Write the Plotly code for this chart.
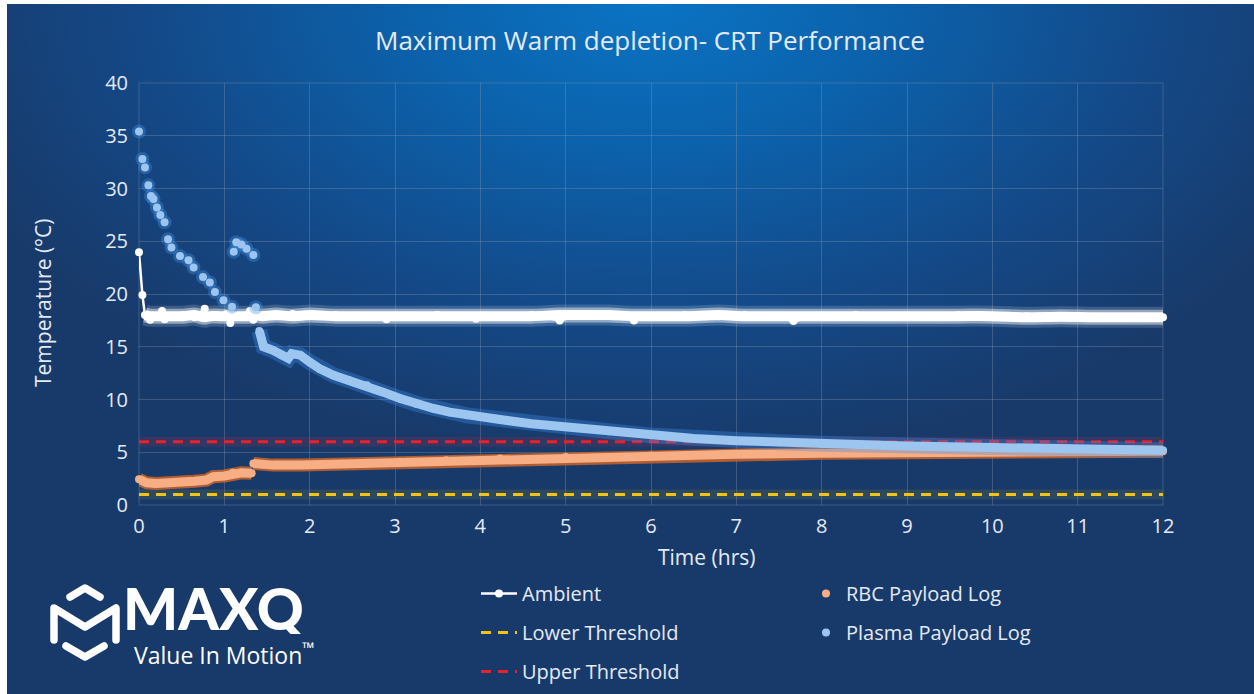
import base64
import plotly.graph_objects as go

# ---------------- data ----------------
amb_t = [0.0, 0.04, 0.07, 0.13, 0.2, 0.27, 0.3, 0.4, 0.52, 0.65, 0.77, 0.83, 0.95, 1.03, 1.07,
         1.15, 1.3, 1.34, 1.45, 1.6, 1.8, 2.0, 2.3, 2.6, 2.9, 3.2, 3.5, 3.95, 4.3, 4.6, 4.93,
         5.2, 5.5, 5.8, 6.1, 6.4, 6.8, 7.1, 7.4, 7.67, 8.0, 8.4, 8.8, 9.2, 9.6, 10.0, 10.4,
         10.8, 11.2, 11.6, 12.0]
amb_v = [23.95, 19.9, 18.0, 17.55, 17.9, 18.4, 17.6, 17.9, 18.0, 17.8, 18.6, 17.8, 17.9, 18.1, 17.25,
         17.9, 18.4, 17.55, 18.0, 17.9, 18.1, 17.9, 18.0, 17.9, 17.6, 17.9, 18.0, 17.65, 17.9, 18.0, 17.5,
         18.0, 18.1, 17.5, 17.9, 18.0, 17.9, 18.0, 17.9, 17.45, 17.9, 18.0, 17.9, 17.9, 18.0, 17.8, 17.9,
         17.8, 17.85, 17.8, 17.8]

rbc_t = [0.0, 0.09, 0.2, 0.32, 0.52, 0.65, 0.79, 0.87, 1.0, 1.07, 1.1, 1.2, 1.32, 1.34, 1.45, 1.57,
         1.9, 2.28, 2.7, 3.06, 3.6, 4.23, 5.0, 6.0, 7.0, 8.0, 9.0, 10.0, 11.0, 12.0]
rbc_v = [2.43, 2.1, 2.05, 2.05, 2.2, 2.25, 2.36, 2.68, 2.75, 2.84, 3.06, 3.05, 3.0, 3.94, 3.85, 3.78,
         3.8, 3.88, 4.0, 4.1, 4.25, 4.4, 4.55, 4.7, 4.8, 4.9, 4.95, 5.0, 5.05, 5.1]

pla_t = [0.0, 0.04, 0.07, 0.11, 0.14, 0.17, 0.21, 0.25, 0.3, 0.34, 0.38, 0.48, 0.58, 0.64, 0.75,
         0.83, 0.89, 0.99, 1.09, 1.11, 1.14, 1.2, 1.26, 1.34, 1.37, 1.41, 1.44, 1.46, 1.57, 1.67,
         1.75, 1.79, 1.89, 2.0, 2.12, 2.28, 2.47, 2.67, 2.86, 3.06, 3.25, 3.45, 3.64, 3.84, 4.0,
         4.23, 4.6, 5.0, 5.5, 6.0, 6.5, 7.0, 7.5, 8.0, 9.0, 10.0, 11.0, 12.0]
pla_v = [35.4, 32.8, 32.0, 30.3, 29.3, 29.0, 28.2, 27.5, 26.8, 25.2, 24.4, 23.6, 23.2, 22.5, 21.6,
         21.1, 20.2, 19.4, 18.8, 24.0, 24.9, 24.7, 24.3, 23.7, 18.75, 16.5, 15.7, 15.0, 14.66, 14.2,
         13.9, 14.35, 14.2, 13.55, 12.9, 12.3, 11.8, 11.35, 10.7, 10.1, 9.6, 9.15, 8.8, 8.5, 8.35,
         8.1, 7.7, 7.4, 7.0, 6.6, 6.3, 6.1, 5.95, 5.8, 5.6, 5.45, 5.3, 5.2]

lower_threshold = 1.0
upper_threshold = 6.0
x_range = [0, 12]
y_range = [0, 40]
x_ticks = list(range(0, 13))
y_ticks = list(range(0, 41, 5))

title_text = "Maximum Warm depletion- CRT Performance"
x_title = "Time (hrs)"
y_title = "Temperature (°C)"

# ---------------- layout geometry ----------------
W, H = 1254, 694
L, R, T, B = 139, 1163, 83, 505
FONT = "Open Sans"
TXT = "#e4eaf4"


def px(x):
    return (x - L) / (R - L)


def py(y):
    return (B - y) / (B - T)


def with_gaps(ts, vs, jump=0.5, dt=0.06):
    """insert None where the series jumps vertically (logger discontinuity)"""
    xo, yo = [ts[0]], [vs[0]]
    for i in range(1, len(ts)):
        if abs(vs[i] - vs[i - 1]) > jump and (ts[i] - ts[i - 1]) < dt:
            xo.append(None)
            yo.append(None)
        xo.append(ts[i])
        yo.append(vs[i])
    return xo, yo


def median3(vs):
    """light smoothing used only for the decorative glow under the ambient trace"""
    out = list(vs)
    for i in range(1, len(vs) - 1):
        out[i] = sorted(vs[i - 1:i + 2])[1]
    return out


fig = go.Figure()

# thresholds (glow + line)
for val, col, glow, name in [(lower_threshold, "#f2c214", "rgba(240,200,20,0.10)", "Lower Threshold"),
                             (upper_threshold, "#e8212b", "rgba(232,33,43,0.14)", "Upper Threshold")]:
    fig.add_trace(go.Scatter(x=x_range, y=[val, val], mode="lines",
                             line=dict(color=glow, width=10), showlegend=False, hoverinfo="skip"))
    fig.add_trace(go.Scatter(x=x_range, y=[val, val], mode="lines", name=name,
                             line=dict(color=col, width=3, dash="10px,7px"),
                             legend="legend", legendgroup=name,
                             legendrank=2 if name.startswith("Lower") else 3))

# ambient glow
amb_gx = [t for t in amb_t if t >= 0.07]
amb_gy = median3([v for t, v in zip(amb_t, amb_v) if t >= 0.07])
for w, c in [(21, "rgba(255,255,255,0.16)"), (15, "rgba(255,255,255,0.45)"), (10, "#ffffff")]:
    fig.add_trace(go.Scatter(x=amb_gx, y=amb_gy, mode="lines", line=dict(color=c, width=w, shape="spline"),
                             showlegend=False, hoverinfo="skip", cliponaxis=False))
fig.add_trace(go.Scatter(x=amb_t, y=amb_v, mode="lines+markers", name="Ambient",
                         line=dict(color="#ffffff", width=2.5),
                         marker=dict(color="#ffffff", size=8),
                         legend="legend", legendgroup="Ambient", legendrank=1, cliponaxis=False))

# RBC band
rx, ry = with_gaps(rbc_t, rbc_v)
fig.add_trace(go.Scatter(x=rx, y=ry, mode="lines", line=dict(color="rgba(205,100,40,0.85)", width=13),
                         showlegend=False, hoverinfo="skip", cliponaxis=False))
fig.add_trace(go.Scatter(x=rx, y=ry, mode="lines", line=dict(color="#f7ae85", width=9),
                         showlegend=False, hoverinfo="skip", cliponaxis=False))
fig.add_trace(go.Scatter(x=rbc_t, y=rbc_v, mode="markers", name="RBC Payload Log",
                         marker=dict(color="#f7ae85", size=8),
                         legend="legend2", legendgroup="RBC", legendrank=1, cliponaxis=False))

# Plasma: discrete dots early, continuous band later
band_x = [t for t in pla_t if t >= 1.41]
band_y = [v for t, v in zip(pla_t, pla_v) if t >= 1.41]
dot_x = [t for t in pla_t if t < 1.41]
dot_y = [v for t, v in zip(pla_t, pla_v) if t < 1.41]
fig.add_trace(go.Scatter(x=band_x, y=band_y, mode="lines", line=dict(color="rgba(60,140,235,0.35)", width=16),
                         showlegend=False, hoverinfo="skip", cliponaxis=False))
fig.add_trace(go.Scatter(x=band_x, y=band_y, mode="lines", line=dict(color="#9cc6f0", width=9),
                         showlegend=False, hoverinfo="skip", cliponaxis=False))
fig.add_trace(go.Scatter(x=dot_x, y=dot_y, mode="markers", marker=dict(color="rgba(70,150,235,0.35)", size=14),
                         showlegend=False, hoverinfo="skip", cliponaxis=False))
fig.add_trace(go.Scatter(x=pla_t, y=pla_v, mode="markers", name="Plasma Payload Log",
                         marker=dict(color="#9cc6f0", size=8),
                         legend="legend2", legendgroup="Plasma", legendrank=2, cliponaxis=False))

# ---------------- background (gradient + logo mark) ----------------
svg = f'''<svg xmlns="http://www.w3.org/2000/svg" width="{W}" height="{H}" viewBox="0 0 {W} {H}">
<defs>
<radialGradient id="g" gradientUnits="userSpaceOnUse" cx="650" cy="0" r="740"
 gradientTransform="translate(650 0) scale(1 0.62) translate(-650 0)">
<stop offset="0" stop-color="#0a74c4"/>
<stop offset="0.35" stop-color="#0c60a9"/>
<stop offset="0.7" stop-color="#144886"/>
<stop offset="1" stop-color="#183a6a"/>
</radialGradient>
</defs>
<rect x="7" y="4" width="{W - 7}" height="{H - 4}" fill="#183a6a"/>
<rect x="7" y="4" width="{W - 7}" height="{H - 4}" fill="url(#g)"/>
<rect x="{L}" y="{T}" width="{R - L}" height="{B - T}" fill="none" stroke="rgba(140,150,170,0.35)" stroke-width="1"/>
<g fill="none" stroke="#ffffff" stroke-width="7.5" stroke-linecap="round" stroke-linejoin="round">
<path d="M70 597 L85 588 L100 597"/>
<path d="M54 640 L54 608 L85 627 L116 608 L116 640"/>
<path d="M66 646 L85 657 L104 646"/>
</g>
</svg>'''
src = "data:image/svg+xml;base64," + base64.b64encode(svg.encode()).decode()

fig.add_layout_image(dict(source=src, xref="paper", yref="paper", x=px(0), y=py(0),
                          sizex=W / (R - L), sizey=H / (B - T), xanchor="left", yanchor="top",
                          sizing="stretch", layer="below"))

annotations = [
    dict(text=title_text, x=px(650), y=py(40), font=dict(size=26, color=TXT)),
    dict(text=x_title, x=px(706), y=py(557), font=dict(size=21, color=TXT)),
    dict(text=y_title, x=px(43), y=py(303), textangle=-90, font=dict(size=21, color=TXT)),
    dict(text="MAXQ", x=px(214), y=py(607), height=54, valign="middle",
         font=dict(size=58, color="#ffffff", family="Lato", weight=900)),
    dict(text="Value In Motion<sup>™</sup>", x=px(224), y=py(635), yanchor="top",
         font=dict(size=23, color="#ffffff")),
]
for a in annotations:
    a.setdefault("yanchor", "middle")
    a.update(xref="paper", yref="paper", showarrow=False, xanchor="center")

grid = "rgba(140,150,170,0.35)"
fig.update_layout(
    width=W, height=H, autosize=False,
    margin=dict(l=L, r=W - R, t=T, b=H - B, pad=0, autoexpand=False),
    paper_bgcolor="#ffffff", plot_bgcolor="rgba(0,0,0,0)",
    font=dict(family=FONT, color=TXT, size=20),
    annotations=annotations,
    xaxis=dict(range=x_range, tickvals=x_ticks, showgrid=True, gridcolor=grid, zeroline=False,
               showline=False, ticks="", ticklabelstandoff=7, tickfont=dict(size=20, color=TXT),
               automargin=False),
    yaxis=dict(range=y_range, tickvals=y_ticks, showgrid=True, gridcolor=grid, zeroline=False,
               showline=False, ticks="", ticklabelstandoff=10, tickfont=dict(size=20, color=TXT),
               automargin=False),
    legend=dict(x=px(476), y=py(574), xanchor="left", yanchor="top", orientation="v",
                bgcolor="rgba(0,0,0,0)", font=dict(size=20, color=TXT), tracegroupgap=10,
                itemwidth=36),
    legend2=dict(x=px(806), y=py(574), xanchor="left", yanchor="top", orientation="v",
                 bgcolor="rgba(0,0,0,0)", font=dict(size=20, color=TXT), tracegroupgap=10),
    showlegend=True,
)

fig.write_html("out.html")
